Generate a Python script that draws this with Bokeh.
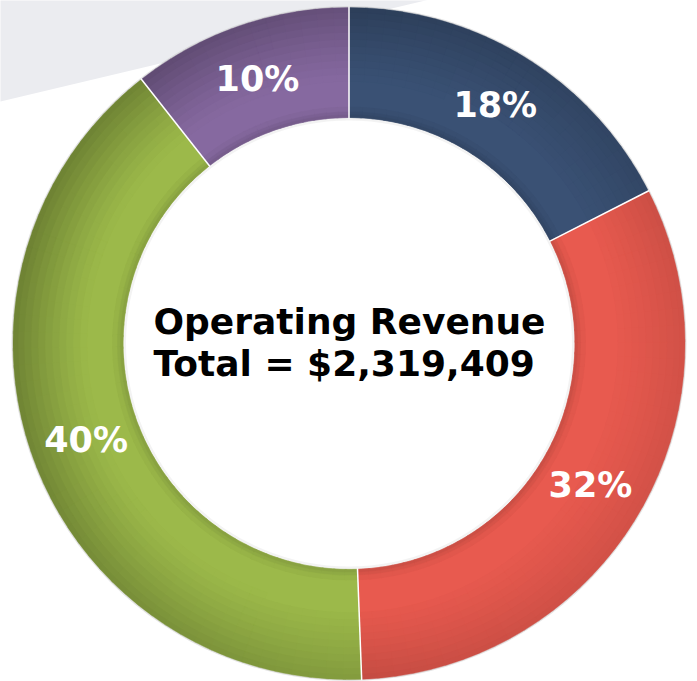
import numpy as np
from bokeh.plotting import figure
from bokeh.models import Range1d, ColumnDataSource
from bokeh.embed import file_html
from bokeh.resources import INLINE
from bokeh.core.properties import value

# ---- data ----
shares = [17.5, 31.9, 40.0, 10.6]          # drawn share of each slice, clockwise from top
labels = ["18%", "32%", "40%", "10%"]      # printed labels
colors = ["#3a5174", "#e85a4f", "#9cb94a", "#8669a0"]
title_lines = ["Operating Revenue", "Total = $2,319,409"]

# ---- layout constants (pixels) ----
R_OUT, R_IN, LABEL_R = 336.0, 226.0, 280.0

p = figure(width=697, height=681,
           x_range=Range1d(-348.5, 348.5), y_range=Range1d(-338, 343),
           output_backend="svg", toolbar_location=None, min_border=0,
           x_axis_location=None, y_axis_location=None,
           background_fill_color="white", border_fill_color="white",
           outline_line_color=None)
p.grid.visible = False

# light grey background band top-left
p.patch(x=[-348.5, 160.5, -360, -360], y=[242, 363, 363, 242],
        fill_color="#ebecf0", line_color=None)

# slice angles (degrees, math orientation), slices run clockwise from 12 o'clock
cum = np.concatenate([[0.0], np.cumsum(shares)])
total = cum[-1]
a_hi = 90.0 - cum[:-1] / total * 360.0
a_lo = 90.0 - cum[1:] / total * 360.0

def darken(hexc, f):
    h = hexc.lstrip("#")
    r, g, b = (int(h[i:i + 2], 16) for i in (0, 2, 4))
    k = max(0.0, 1.0 - f)
    return "#%02x%02x%02x" % (int(r * k), int(g * k), int(b * k))

# base slices
p.annular_wedge(x=0, y=0, inner_radius=R_IN, outer_radius=R_OUT,
                start_angle=np.radians(a_lo), end_angle=np.radians(a_hi),
                fill_color=colors, line_color=colors, line_width=0.5)

# shading pieces
band_edges = [226, 229, 232, 236, 262, 269, 276, 283, 290, 297, 304, 311, 318, 325, 331, 336]
sh = dict(inner=[], outer=[], start=[], end=[], color=[])
for i in range(len(shares)):
    lo, hi = a_lo[i], a_hi[i]
    n = max(1, int(np.ceil((hi - lo) / 3.0)))
    edges = np.linspace(lo, hi, n + 1)
    for j in range(n):
        s0 = max(lo, edges[j] - 0.25)
        e0 = min(hi, edges[j + 1] + 0.25)
        th = 0.5 * (edges[j] + edges[j + 1])
        w = 0.3 + 0.7 * (1 + np.cos(np.radians(th - 160))) / 2
        for k in range(len(band_edges) - 1):
            r0, r1 = band_edges[k], band_edges[k + 1]
            rm = 0.5 * (r0 + r1)
            t = np.clip((rm - 262) / 74.0, 0, 1)
            t2 = np.clip((236 - rm) / 10.0, 0, 1)
            f = 0.30 * t ** 1.2 * w + 0.14 * t2
            if f < 0.005:
                continue
            sh["inner"].append(r0)
            sh["outer"].append(r1 + (0.5 if r1 < R_OUT else 0))
            sh["start"].append(np.radians(s0))
            sh["end"].append(np.radians(e0))
            sh["color"].append(darken(colors[i], f))
p.annular_wedge(x=0, y=0, inner_radius="inner", outer_radius="outer",
                start_angle="start", end_angle="end", fill_color="color",
                line_color="color", line_width=0.5, source=ColumnDataSource(sh))

# faint rim and inner shadow
p.annular_wedge(x=0, y=0, inner_radius=R_OUT, outer_radius=R_OUT + 1.5,
                start_angle=0, end_angle=2 * np.pi, fill_color="#c8c8c8",
                fill_alpha=0.5, line_color=None)
p.annular_wedge(x=0, y=0, inner_radius=R_IN - 3, outer_radius=R_IN,
                start_angle=0, end_angle=2 * np.pi, fill_color="#bbbbbb",
                fill_alpha=0.18, line_color=None)

# white separators
bnd = np.radians(a_hi)
p.segment(x0=(R_IN - 1) * np.cos(bnd), y0=(R_IN - 1) * np.sin(bnd),
          x1=(R_OUT + 1) * np.cos(bnd), y1=(R_OUT + 1) * np.sin(bnd),
          line_color="white", line_width=1.5)

# percentage labels
mid = np.radians(0.5 * (a_lo + a_hi))
p.text(x=LABEL_R * np.cos(mid), y=LABEL_R * np.sin(mid), text=labels,
       text_color="white", text_font=value("DejaVu Sans"), text_font_style="bold",
       text_font_size="35px", text_align="center", text_baseline="middle")

# centre title
p.text(x=[-195.5, -195.5], y=[22.5, -20], text=title_lines, text_color="black",
       text_font=value("DejaVu Sans"), text_font_style="bold",
       text_font_size="36px", text_align="left", text_baseline="middle")

open("out.html", "w").write(file_html(p, INLINE))
